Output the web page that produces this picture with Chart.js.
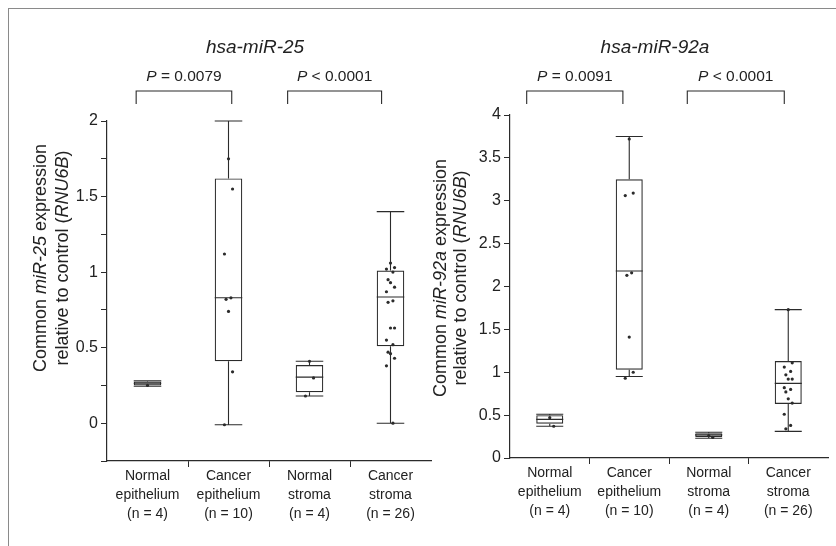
<!DOCTYPE html>
<html lang="en">
<head>
<meta charset="UTF-8">
<title>hsa-miR-25 / hsa-miR-92a expression</title>
<script src="https://cdn.jsdelivr.net/npm/chart.js"></script>
<style>
    * { margin: 0; padding: 0; box-sizing: border-box; }
    body {
        width: 836px; height: 546px; position: relative; overflow: hidden;
        background: #fff; font-family: 'Liberation Sans', Arial, sans-serif;
    }
    /* thin scan frame, top and left only */
    .frame {
        position: absolute; left: 8px; top: 8px; right: -4px; bottom: -4px;
        border-top: 1px solid #8a8a8a; border-left: 1px solid #8a8a8a;
    }
    .panel { position: absolute; top: 0; height: 546px; }
    #left { left: 0; width: 440px; }
    #right { left: 420px; width: 416px; }
</style>
</head>
<body>
<div class="frame"></div>
<div class="panel" id="left"><canvas id="chart25"></canvas></div>
<div class="panel" id="right"><canvas id="chart92"></canvas></div>

<script>
// groups on the x axis
const groups = [
    ['Normal', 'epithelium', '(n = 4)'],
    ['Cancer', 'epithelium', '(n = 10)'],
    ['Normal', 'stroma', '(n = 4)'],
    ['Cancer', 'stroma', '(n = 26)']
];

// hsa-miR-25 box statistics
const mir25Low    = [0.245, -0.01, 0.18, 0.0];
const mir25Q1     = [0.25, 0.41, 0.205, 0.51];
const mir25Median = [0.265, 0.83, 0.305, 0.835];
const mir25Q3     = [0.275, 1.62, 0.385, 1.01];
const mir25High   = [0.28, 2.0, 0.41, 1.40];
// individual samples that can be seen
const mir25Points = [
    [0.25],
    [1.75, 1.55, 1.12, 0.83, 0.82, 0.74, 0.34, -0.01],
    [0.41, 0.30, 0.18],
    [1.06, 1.03, 1.02, 1.00, 0.95, 0.93, 0.90, 0.87, 0.81, 0.80, 0.63, 0.63, 0.55, 0.52, 0.47, 0.46, 0.43, 0.38, 0.0]
];
const mir25Ticks = [0, 0.5, 1, 1.5, 2];

// hsa-miR-92a box statistics
const mir92Low    = [0.37, 0.95, 0.23, 0.31];
const mir92Q1     = [0.40, 1.03, 0.245, 0.63];
const mir92Median = [0.45, 2.18, 0.27, 0.87];
const mir92Q3     = [0.50, 3.25, 0.29, 1.13];
const mir92High   = [0.51, 3.75, 0.30, 1.73];
const mir92Points = [
    [0.47, 0.37],
    [3.72, 3.09, 3.06, 2.16, 2.13, 1.41, 1.00, 0.93],
    [0.26, 0.24],
    [1.73, 1.11, 1.06, 1.01, 0.97, 0.92, 0.92, 0.82, 0.80, 0.77, 0.69, 0.64, 0.51, 0.38, 0.34]
];
const mir92Ticks = [0, 0.5, 1, 1.5, 2, 2.5, 3, 3.5, 4];

// P values between pairs of groups
const mir25Pvals = ['*P* = 0.0079', '*P* < 0.0001'];
const mir92Pvals = ['*P* = 0.0091', '*P* < 0.0001'];
const pairs = [[0, 1], [2, 3]];

const INK = '#2b2b2b';
const FAMILY = '"Liberation Sans", Arial, sans-serif';
Chart.defaults.font.family = FAMILY;
Chart.defaults.color = '#222';

function font(size, italic) {
    return (italic ? 'italic ' : '') + size + 'px ' + FAMILY;
}

// "*x*" marks italic pieces
function parseRich(str) {
    return str.split('*').map((t, i) => ({ t: t, it: i % 2 === 1 })).filter(p => p.t);
}

function drawRich(ctx, str, x, y, size, angle) {
    const parts = parseRich(str);
    ctx.save();
    ctx.translate(x, y);
    ctx.rotate(angle || 0);
    let total = 0;
    parts.forEach(p => { ctx.font = font(size, p.it); total += ctx.measureText(p.t).width; });
    let cx = -total / 2;
    ctx.textAlign = 'left';
    ctx.textBaseline = 'middle';
    ctx.fillStyle = '#222';
    parts.forEach(p => {
        ctx.font = font(size, p.it);
        ctx.fillText(p.t, cx, 0);
        cx += ctx.measureText(p.t).width;
    });
    ctx.restore();
}

// whiskers, caps and medians on top of the floating bars
const boxPlugin = {
    id: 'boxes',
    afterDatasetDraw(chart, args, opts) {
        if (args.index !== 0) return;
        const ctx = chart.ctx, y = chart.scales.y;
        ctx.save();
        ctx.strokeStyle = INK;
        ctx.lineWidth = 1.1;
        chart.getDatasetMeta(0).data.forEach((bar, i) => {
            const half = bar.width / 2;
            const yl = y.getPixelForValue(opts.low[i]);
            const yh = y.getPixelForValue(opts.high[i]);
            const y1 = y.getPixelForValue(opts.q1[i]);
            const y3 = y.getPixelForValue(opts.q3[i]);
            const ym = y.getPixelForValue(opts.median[i]);
            ctx.beginPath();
            ctx.moveTo(bar.x, y3); ctx.lineTo(bar.x, yh);
            ctx.moveTo(bar.x - half, yh); ctx.lineTo(bar.x + half, yh);
            ctx.moveTo(bar.x, y1); ctx.lineTo(bar.x, yl);
            ctx.moveTo(bar.x - half, yl); ctx.lineTo(bar.x + half, yl);
            ctx.moveTo(bar.x - half, ym); ctx.lineTo(bar.x + half, ym);
            ctx.stroke();
        });
        ctx.restore();
    }
};

// title, brackets with P values, rotated axis title
const notesPlugin = {
    id: 'notes',
    afterDraw(chart, args, opts) {
        const ctx = chart.ctx, x = chart.scales.x, area = chart.chartArea;
        const cw = (area.right - area.left) / groups.length;
        drawRich(ctx, opts.title, (area.left + area.right) / 2 - 14, 48, 19);
        pairs.forEach((pr, k) => {
            const x0 = x.getPixelForValue(pr[0]) + opts.brackets[k][0] * cw;
            const x1 = x.getPixelForValue(pr[1]) + opts.brackets[k][1] * cw;
            ctx.save();
            ctx.strokeStyle = INK;
            ctx.lineWidth = 1.1;
            ctx.beginPath();
            ctx.moveTo(x0, 104); ctx.lineTo(x0, 91); ctx.lineTo(x1, 91); ctx.lineTo(x1, 104);
            ctx.stroke();
            ctx.restore();
            drawRich(ctx, opts.pvals[k], (x0 + x1) / 2, 77, 15.5);
        });
        opts.yTitle.forEach((line, k) => {
            drawRich(ctx, line, opts.yTitleX[k], opts.yTitleY, 18, -Math.PI / 2);
        });
    }
};

function makeChart(id, cfg) {
    const jit = [0, 0.05, -0.05, 0.03, -0.03];
    const pts = [];
    cfg.points.forEach((list, g) => list.forEach((v, k) => pts.push({ x: g + jit[k % jit.length], y: v })));
    const labelled = cfg.ticks;
    return new Chart(document.getElementById(id), {
        type: 'bar',
        data: {
            labels: groups,
            datasets: [
                {
                    type: 'bar',
                    data: cfg.q1.map((v, i) => [v, cfg.q3[i]]),
                    xAxisID: 'x',
                    grouped: false,
                    backgroundColor: 'rgba(255,255,255,0)',
                    borderColor: INK,
                    borderWidth: 1.2,
                    borderSkipped: false,
                    barPercentage: 1,
                    categoryPercentage: 0.34,
                    order: 2
                },
                {
                    type: 'scatter',
                    data: pts,
                    xAxisID: 'xp',
                    pointRadius: 1.6,
                    pointBorderWidth: 0,
                    pointBackgroundColor: INK,
                    order: 1
                }
            ]
        },
        options: {
            responsive: true,
            maintainAspectRatio: false,
            animation: false,
            layout: { padding: cfg.padding },
            plugins: {
                legend: { display: false },
                tooltip: { enabled: false },
                boxes: { low: cfg.low, q1: cfg.q1, median: cfg.median, q3: cfg.q3, high: cfg.high },
                notes: {
                    title: cfg.title, pvals: cfg.pvals, brackets: cfg.brackets,
                    yTitle: cfg.yTitle, yTitleX: cfg.yTitleX, yTitleY: cfg.yTitleY
                }
            },
            scales: {
                x: {
                    type: 'category',
                    offset: true,
                    border: { color: INK, width: 1.2 },
                    grid: {
                        offset: true,
                        drawOnChartArea: false,
                        tickLength: 6,
                        color: c => (c.type === 'tick' && c.index > 0 ? INK : 'rgba(0,0,0,0)')
                    },
                    ticks: { padding: 0, maxRotation: 0, autoSkip: false, font: { size: 14, lineHeight: 1.36 } },
                    afterFit: s => { s.height = 70; }
                },
                xp: {
                    type: 'linear', display: false, offset: false, grace: 0,
                    min: -0.5, max: groups.length - 0.5
                },
                y: {
                    min: cfg.min,
                    max: cfg.max,
                    border: { color: INK, width: 1.2 },
                    grid: { drawOnChartArea: false, tickLength: 6, color: INK },
                    ticks: {
                        stepSize: cfg.step,
                        includeBounds: false,
                        padding: 3,
                        font: { size: 16 },
                        callback: v => (labelled.some(t => Math.abs(t - v) < 1e-6) ? String(v) : '')
                    },
                    afterFit: s => { s.width = cfg.yWidth; }
                }
            }
        },
        plugins: [boxPlugin, notesPlugin]
    });
}

makeChart('chart25', {
    title: '*hsa-miR-25*',
    low: mir25Low, q1: mir25Q1, median: mir25Median, q3: mir25Q3, high: mir25High,
    points: mir25Points, ticks: mir25Ticks, pvals: mir25Pvals,
    brackets: [[-0.14, 0.04], [-0.27, -0.11]],
    min: -0.25, max: 2, step: 0.25,
    yTitle: ['Common *miR-25* expression', 'relative to control (*RNU6B*)'],
    yTitleX: [41, 63], yTitleY: 258,
    yWidth: 37,
    padding: { left: 70, right: 9, top: 121, bottom: 15 }
});

makeChart('chart92', {
    title: '*hsa-miR-92a*',
    low: mir92Low, q1: mir92Q1, median: mir92Median, q3: mir92Q3, high: mir92High,
    points: mir92Points, ticks: mir92Ticks, pvals: mir92Pvals,
    brackets: [[-0.29, -0.08], [-0.27, -0.05]],
    min: 0, max: 4, step: 0.5,
    yTitle: ['Common *miR-92a* expression', 'relative to control (*RNU6B*)'],
    yTitleX: [21, 41], yTitleY: 278,
    yWidth: 35,
    padding: { left: 55, right: 8, top: 115, bottom: 18 }
});
</script>
</body>
</html>
